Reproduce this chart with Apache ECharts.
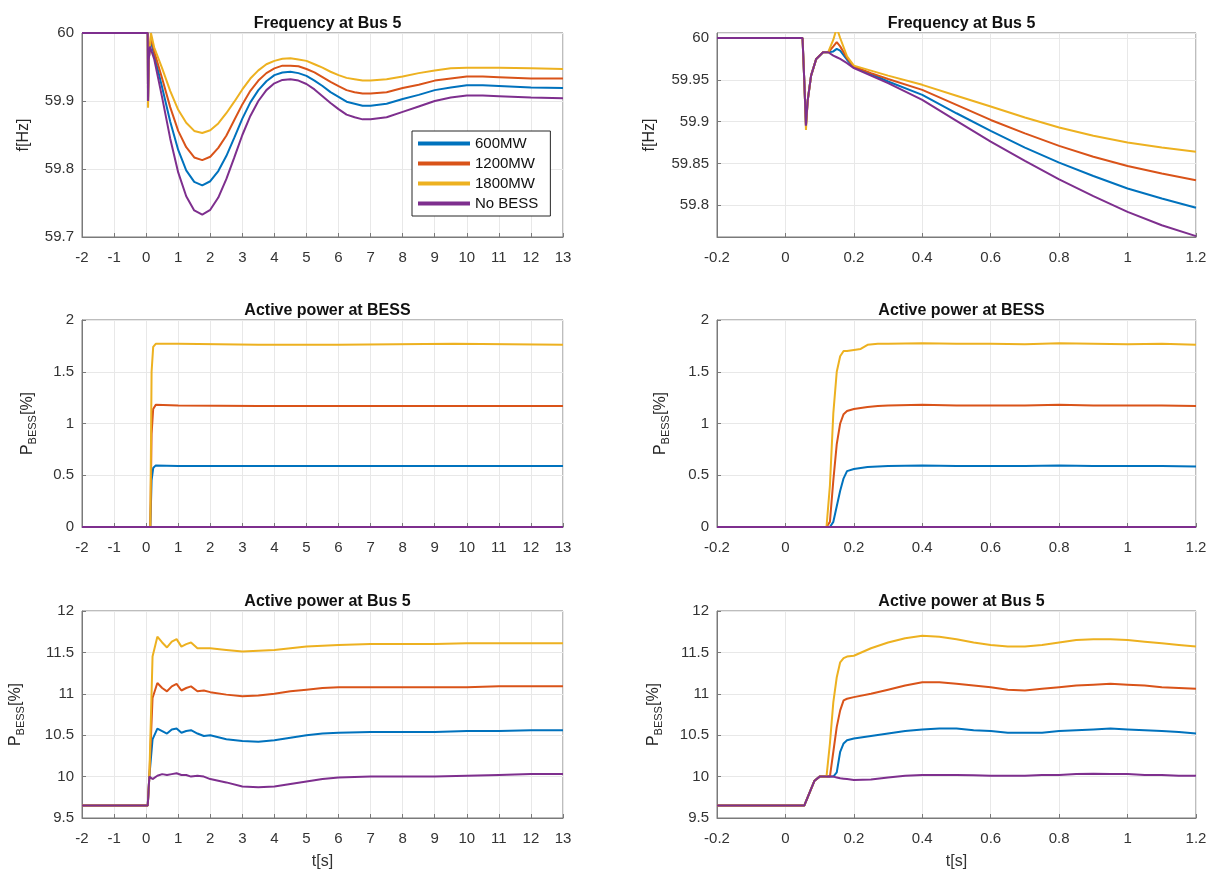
<!DOCTYPE html>
<html>
<head>
<meta charset="utf-8">
<script src="https://cdn.jsdelivr.net/npm/echarts@6/dist/echarts.min.js"></script>
<style>
    html, body { margin: 0; padding: 0; background: #fff; }
    #chart { width: 1225px; height: 880px; }
</style>
</head>
<body>
<div id="chart"></div>
<script>
// series names and MATLAB default colours
var names = ['600MW', '1200MW', '1800MW', 'No BESS'];
var colors = ['#0072BD', '#D95319', '#EDB120', '#7E2F8E'];

// panel A: frequency at bus 5, long window
var tA = [-2, 0.05, 0.06, 0.08, 0.12, 0.15,
    0.25, 0.5, 0.75, 1.0, 1.25, 1.5, 1.75, 2.0, 2.25, 2.5, 2.75, 3.0, 3.25, 3.5, 3.75, 4.0,
    4.25, 4.5, 4.75, 5.0, 5.25, 5.5, 5.75, 6.0, 6.25, 6.5, 6.75, 7.0,
    7.5, 8.0, 8.5, 9.0, 9.5, 10, 10.5, 11, 12, 13];
var fA600 = [60, 60, 59.9, 59.96, 59.98, 59.988,
    59.968, 59.920, 59.870, 59.828, 59.798, 59.781, 59.776, 59.782, 59.797, 59.819, 59.846, 59.874, 59.898, 59.916, 59.929, 59.938,
    59.942, 59.943, 59.941, 59.937, 59.930, 59.922, 59.913, 59.906, 59.899, 59.896, 59.893, 59.893,
    59.896, 59.903, 59.909, 59.916, 59.920, 59.923, 59.923, 59.922, 59.920, 59.919];
var fA1200 = [60, 60, 59.9, 59.96, 59.98, 59.995,
    59.973, 59.933, 59.891, 59.856, 59.832, 59.817, 59.813, 59.818, 59.831, 59.849, 59.872, 59.895, 59.915, 59.930, 59.941, 59.948,
    59.952, 59.952, 59.951, 59.947, 59.942, 59.935, 59.928, 59.922, 59.916, 59.913, 59.911, 59.911,
    59.913, 59.919, 59.924, 59.930, 59.933, 59.936, 59.936, 59.935, 59.933, 59.933];
var fA1800 = [60, 60, 59.89, 59.96, 59.98, 60.0,
    59.979, 59.948, 59.915, 59.887, 59.868, 59.856, 59.853, 59.857, 59.867, 59.882, 59.899, 59.917, 59.933, 59.945, 59.954, 59.959,
    59.962, 59.963, 59.961, 59.959, 59.954, 59.949, 59.943, 59.938, 59.934, 59.932, 59.930, 59.930,
    59.932, 59.936, 59.941, 59.945, 59.948, 59.949, 59.949, 59.949, 59.948, 59.947];
var fANo = [60, 60, 59.9, 59.96, 59.98, 59.978,
    59.962, 59.905, 59.845, 59.795, 59.760, 59.739, 59.733, 59.740, 59.758, 59.785, 59.817, 59.850, 59.878, 59.900, 59.916, 59.926,
    59.931, 59.932, 59.930, 59.925, 59.917, 59.907, 59.897, 59.888, 59.880, 59.876, 59.873, 59.873,
    59.876, 59.884, 59.892, 59.900, 59.905, 59.908, 59.908, 59.907, 59.905, 59.904];

// panel B: frequency at bus 5, short window
var tB = [-0.2, 0.05, 0.055, 0.06, 0.065, 0.075, 0.09, 0.11, 0.125, 0.14, 0.15, 0.16, 0.18, 0.2, 0.25, 0.3, 0.4, 0.5, 0.6, 0.7, 0.8, 0.9, 1.0, 1.1, 1.2];
var fB600 = [60, 60, 59.95, 59.895, 59.925, 59.955, 59.975, 59.983, 59.983, 59.984, 59.987, 59.985, 59.974, 59.965, 59.957, 59.948, 59.932, 59.91, 59.889, 59.869, 59.851, 59.835, 59.820, 59.808, 59.797];
var fB1200 = [60, 60, 59.95, 59.895, 59.925, 59.955, 59.975, 59.983, 59.983, 59.99, 59.995, 59.99, 59.976, 59.966, 59.958, 59.951, 59.938, 59.92, 59.902, 59.886, 59.871, 59.858, 59.847, 59.838, 59.830];
var fB1800 = [60, 60, 59.95, 59.89, 59.925, 59.955, 59.975, 59.983, 59.983, 59.998, 60.012, 60.0, 59.978, 59.967, 59.961, 59.955, 59.944, 59.931, 59.918, 59.905, 59.893, 59.883, 59.875, 59.869, 59.864];
var fBNo = [60, 60, 59.95, 59.895, 59.925, 59.955, 59.975, 59.983, 59.983, 59.979, 59.977, 59.975, 59.97, 59.964, 59.955, 59.946, 59.926, 59.901, 59.876, 59.853, 59.831, 59.811, 59.792, 59.776, 59.763];

// panel C: BESS active power, long window
var tC = [-2, 0.13, 0.17, 0.22, 0.3, 1, 3.5, 6, 9.6, 13];
var pC600 = [0, 0, 0.45, 0.57, 0.595, 0.59, 0.59, 0.59, 0.59, 0.59];
var pC1200 = [0, 0, 0.9, 1.14, 1.18, 1.175, 1.17, 1.17, 1.17, 1.17];
var pC1800 = [0, 0, 1.5, 1.74, 1.77, 1.77, 1.76, 1.76, 1.77, 1.76];
var pCNo = [0, 0, 0, 0, 0, 0, 0, 0, 0, 0];

// panel D: BESS active power, short window
var tD = [-0.2, 0.12, 0.13, 0.14, 0.15, 0.16, 0.17, 0.18, 0.2, 0.22, 0.24, 0.27, 0.3, 0.4, 0.5, 0.6, 0.7, 0.8, 0.9, 1.0, 1.1, 1.2];
var pD600 = [0, 0, 0, 0.05, 0.2, 0.35, 0.47, 0.54, 0.56, 0.57, 0.58, 0.585, 0.59, 0.595, 0.59, 0.59, 0.59, 0.595, 0.59, 0.59, 0.59, 0.585];
var pD1200 = [0, 0, 0.05, 0.45, 0.8, 1.0, 1.09, 1.12, 1.14, 1.15, 1.16, 1.17, 1.175, 1.18, 1.175, 1.175, 1.175, 1.18, 1.175, 1.175, 1.175, 1.17];
var pD1800 = [0, 0, 0.4, 1.1, 1.5, 1.65, 1.7, 1.7, 1.71, 1.72, 1.76, 1.77, 1.77, 1.775, 1.77, 1.77, 1.765, 1.775, 1.77, 1.765, 1.77, 1.76];
var pDNo = [0, 0, 0, 0, 0, 0, 0, 0, 0, 0, 0, 0, 0, 0, 0, 0, 0, 0, 0, 0, 0, 0];

// panel E: active power at bus 5, long window
var tE = [-2, 0.05, 0.1, 0.13, 0.2, 0.35, 0.5, 0.65, 0.8, 0.95, 1.1, 1.25, 1.4, 1.6, 1.8, 2.0, 2.5, 3.0, 3.5, 4.0, 4.5, 5.0, 5.5, 6.0, 7, 8, 9, 10, 11, 12, 13];
var bE600 = [9.65, 9.65, 10.0, 10.0, 10.45, 10.58, 10.55, 10.52, 10.57, 10.58, 10.53, 10.55, 10.56, 10.52, 10.49, 10.5, 10.45, 10.43, 10.42, 10.44, 10.47, 10.5, 10.52, 10.53, 10.54, 10.54, 10.54, 10.55, 10.55, 10.56, 10.56];
var bE1200 = [9.65, 9.65, 10.0, 10.0, 10.95, 11.13, 11.07, 11.03, 11.09, 11.12, 11.04, 11.07, 11.09, 11.03, 11.04, 11.02, 10.99, 10.97, 10.98, 11.0, 11.03, 11.05, 11.07, 11.08, 11.08, 11.08, 11.08, 11.08, 11.09, 11.09, 11.09];
var bE1800 = [9.65, 9.65, 10.0, 10.0, 11.45, 11.69, 11.62, 11.56, 11.63, 11.66, 11.57, 11.6, 11.62, 11.55, 11.55, 11.55, 11.53, 11.51, 11.52, 11.53, 11.55, 11.57, 11.58, 11.59, 11.6, 11.6, 11.6, 11.61, 11.61, 11.61, 11.61];
var bENo = [9.65, 9.65, 10.0, 9.98, 9.97, 10.01, 10.03, 10.02, 10.03, 10.04, 10.02, 10.02, 10.0, 10.01, 10.0, 9.97, 9.93, 9.88, 9.87, 9.88, 9.91, 9.94, 9.97, 9.99, 10.0, 10.0, 10.0, 10.01, 10.02, 10.03, 10.03];

// panel F: active power at bus 5, short window
var tF = [-0.2, 0.055, 0.07, 0.085, 0.1, 0.12, 0.13, 0.14, 0.15, 0.16, 0.17, 0.18, 0.2, 0.25, 0.3, 0.35, 0.4, 0.45, 0.5, 0.55, 0.6, 0.65, 0.7, 0.75, 0.8, 0.85, 0.9, 0.95, 1.0, 1.05, 1.1, 1.15, 1.2];
var bF600 = [9.65, 9.65, 9.8, 9.95, 10.0, 10.0, 10.0, 10.0, 10.05, 10.3, 10.4, 10.44, 10.46, 10.49, 10.52, 10.55, 10.57, 10.58, 10.58, 10.56, 10.55, 10.53, 10.53, 10.53, 10.55, 10.56, 10.57, 10.58, 10.57, 10.56, 10.55, 10.54, 10.52];
var bF1200 = [9.65, 9.65, 9.8, 9.95, 10.0, 10.0, 10.0, 10.3, 10.6, 10.8, 10.92, 10.94, 10.96, 11.0, 11.05, 11.1, 11.14, 11.14, 11.12, 11.1, 11.08, 11.05, 11.04, 11.06, 11.08, 11.1, 11.11, 11.12, 11.11, 11.1, 11.08, 11.07, 11.06];
var bF1800 = [9.65, 9.65, 9.8, 9.95, 10.0, 10.0, 10.4, 10.9, 11.2, 11.38, 11.43, 11.45, 11.46, 11.55, 11.62, 11.67, 11.7, 11.69, 11.66, 11.62, 11.59, 11.57, 11.57, 11.59, 11.62, 11.65, 11.66, 11.66, 11.65, 11.63, 11.61, 11.59, 11.57];
var bFNo = [9.65, 9.65, 9.8, 9.95, 10.0, 10.0, 10.0, 10.0, 9.99, 9.98, 9.975, 9.97, 9.96, 9.965, 9.99, 10.01, 10.02, 10.02, 10.02, 10.015, 10.01, 10.01, 10.01, 10.02, 10.02, 10.03, 10.035, 10.03, 10.03, 10.02, 10.02, 10.01, 10.01];

var titles = ['Frequency at Bus 5', 'Frequency at Bus 5', 'Active power at BESS', 'Active power at BESS', 'Active power at Bus 5', 'Active power at Bus 5'];

var panels = [
    { t: tA, ys: [fA600, fA1200, fA1800, fANo] },
    { t: tB, ys: [fB600, fB1200, fB1800, fBNo] },
    { t: tC, ys: [pC600, pC1200, pC1800, pCNo] },
    { t: tD, ys: [pD600, pD1200, pD1800, pDNo] },
    { t: tE, ys: [bE600, bE1200, bE1800, bENo] },
    { t: tF, ys: [bF600, bF1200, bF1800, bFNo] }
];

var FONT = 'Liberation Sans';
var AX = '#7a7a7a';
var colLeft = [82, 717];
var colWidth = [481, 479];
var rowTop = [33, 320, 611];
var rowHeight = [204, 207, 207];
// gap between axis and rotated y name, per panel
var yNameGap = [50, 59, 44, 46, 56, 53];

var grids = [], xAxes = [], yAxes = [], titleList = [], series = [];

var pName = '{p|P}{s|BESS}{p|[%]}';
var pRich = {
    p: { fontSize: 16, fontFamily: FONT, color: '#262626' },
    s: { fontSize: 11, fontFamily: FONT, color: '#262626', padding: [10, 0, 0, 0] }
};

for (var i = 0; i < 6; i++) {
    var row = Math.floor(i / 2), col = i % 2;
    grids.push({
        left: colLeft[col], top: rowTop[row], width: colWidth[col], height: rowHeight[row],
        show: true, borderColor: AX, borderWidth: 1, backgroundColor: '#fff'
    });
    titleList.push({
        text: titles[i],
        left: colLeft[col] + colWidth[col] / 2,
        top: rowTop[row] - 22,
        textAlign: 'center',
        textStyle: { fontFamily: FONT, fontSize: 16, fontWeight: 'bold', color: '#111' }
    });

    var xa = {
        type: 'value', gridIndex: i,
        min: col === 0 ? -2 : -0.2,
        max: col === 0 ? 13 : 1.2,
        interval: col === 0 ? 1 : 0.2,
        axisLine: { onZero: false, lineStyle: { color: AX } },
        axisTick: { inside: true, length: 4, lineStyle: { color: AX } },
        axisLabel: { fontFamily: FONT, fontSize: 15, color: '#333', margin: 13 },
        splitLine: { lineStyle: { color: '#e8e8e8' } }
    };
    if (row === 2) {
        xa.name = 't[s]';
        xa.nameLocation = 'middle';
        xa.nameGap = 36;
        xa.nameTextStyle = { fontFamily: FONT, fontSize: 16, color: '#333' };
    }
    xAxes.push(xa);

    var ya = {
        type: 'value', gridIndex: i,
        nameLocation: 'middle', nameRotate: 90, nameGap: yNameGap[i],
        axisLine: { onZero: false, lineStyle: { color: AX } },
        axisTick: { inside: true, length: 4, lineStyle: { color: AX } },
        axisLabel: { fontFamily: FONT, fontSize: 15, color: '#333', margin: 8 },
        splitLine: { lineStyle: { color: '#e8e8e8' } }
    };
    if (row === 0) {
        ya.name = 'f[Hz]';
        ya.nameTextStyle = { fontFamily: FONT, fontSize: 16, color: '#262626' };
        if (col === 0) {
            ya.min = 59.7; ya.max = 60; ya.interval = 0.1;
        } else {
            ya.min = 59.762; ya.max = 60.006;
            ya.axisLabel.showMinLabel = false;
            ya.axisLabel.showMaxLabel = false;
        }
    } else {
        ya.name = pName;
        ya.nameTextStyle = { rich: pRich };
        if (row === 1) {
            ya.min = 0; ya.max = 2; ya.interval = 0.5;
        } else {
            ya.min = 9.5; ya.max = 12; ya.interval = 0.5;
        }
    }
    yAxes.push(ya);

    for (var k = 0; k < 4; k++) {
        var pts = [];
        for (var j = 0; j < panels[i].t.length; j++) {
            pts.push([panels[i].t[j], panels[i].ys[k][j]]);
        }
        series.push({
            name: names[k],
            type: 'line',
            xAxisIndex: i,
            yAxisIndex: i,
            showSymbol: false,
            symbol: 'none',
            clip: true,
            animation: false,
            lineStyle: { width: 2, color: colors[k] },
            itemStyle: { color: colors[k] },
            data: pts
        });
    }
}

var option = {
    animation: false,
    color: colors,
    title: titleList,
    grid: grids,
    xAxis: xAxes,
    yAxis: yAxes,
    legend: {
        data: names,
        orient: 'vertical',
        left: 412,
        top: 131,
        backgroundColor: '#fff',
        borderColor: '#262626',
        borderWidth: 1,
        borderRadius: 0,
        padding: [5, 12, 5, 6],
        itemWidth: 52,
        itemHeight: 4,
        itemGap: 5,
        icon: 'rect',
        textStyle: { fontFamily: FONT, fontSize: 15, color: '#111' }
    },
    series: series
};

var chart = echarts.init(document.getElementById('chart'));
chart.setOption(option);
</script>
</body>
</html>
